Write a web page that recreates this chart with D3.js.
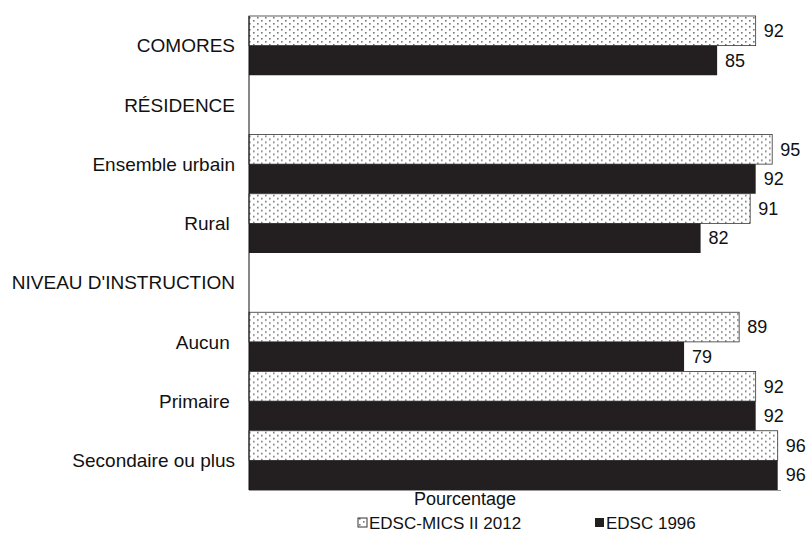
<!DOCTYPE html>
<html>
<head>
<meta charset="utf-8">
<script src="https://cdn.jsdelivr.net/npm/d3@7"></script>
<style>
  body { margin: 0; background: #fff; }
  text { font-family: "Liberation Sans", Arial, sans-serif; fill: #111; }
  .cat { white-space: pre; }
</style>
</head>
<body>
<div id="chart-area"></div>
<script>
// row labels, top to bottom (headers have no bars)
const categories = ["COMORES", "RÉSIDENCE", "Ensemble urbain", "Rural ", "NIVEAU D'INSTRUCTION", "Aucun ", "Primaire ", "Secondaire ou plus"]
const series = ["EDSC-MICS II 2012", "EDSC 1996"]
const values2012 = [92, null, 95, 91, null, 89, 92, 96]
const values1996 = [85, null, 92, 82, null, 79, 92, 96]
const axisTitle = "Pourcentage"

const svg = d3.select("#chart-area").append("svg")
  .attr("width", 810)
  .attr("height", 546)

// dotted fill for the 2012 bars
const defs = svg.append("defs")
const pat = defs.append("pattern")
  .attr("id", "dots")
  .attr("patternUnits", "userSpaceOnUse")
  .attr("width", 8)
  .attr("height", 6)
pat.append("rect").attr("width", 8).attr("height", 6).attr("fill", "#fff")
pat.append("rect").attr("x", 1).attr("y", 1).attr("width", 1.6).attr("height", 1.6).attr("fill", "#777")
pat.append("rect").attr("x", 5).attr("y", 4).attr("width", 1.6).attr("height", 1.6).attr("fill", "#777")

const x = d3.scaleLinear().domain([0, 96.6]).range([249, 781])
const y = d3.scaleBand().domain(categories).range([16, 490])
const y1 = d3.scaleBand().domain(series).range([0, y.bandwidth()])

const rows = categories.map((c, i) => ({cat: c, v: [values2012[i], values1996[i]]}))

const groups = svg.selectAll("g.row")
  .data(rows)
  .enter().append("g")
  .attr("class", "row")
  .attr("transform", d => `translate(0,${y(d.cat)})`)

groups.each(function(d) {
  const g = d3.select(this)
  series.forEach((s, j) => {
    if (d.v[j] == null) return
    g.append("rect")
      .attr("x", x(0))
      .attr("y", y1(s))
      .attr("width", x(d.v[j]) - x(0))
      .attr("height", y1.bandwidth())
      .attr("fill", j === 0 ? "url(#dots)" : "#231f20")
      .attr("stroke", j === 0 ? "#333" : "none")
      .attr("stroke-width", 0.8)
    g.append("text")
      .attr("x", x(d.v[j]) + 8)
      .attr("y", y1(s) + y1.bandwidth() / 2)
      .attr("dy", "0.35em")
      .attr("font-size", 18)
      .text(d.v[j])
  })
})

// category labels
svg.selectAll("text.cat")
  .data(categories)
  .enter().append("text")
  .attr("class", "cat")
  .attr("x", 235)
  .attr("y", d => y(d) + y.bandwidth() / 2)
  .attr("dy", "0.35em")
  .attr("text-anchor", "end")
  .attr("font-size", 19)
  .text(d => d)

// axes lines
svg.append("line")
  .attr("x1", x(0)).attr("x2", x(0))
  .attr("y1", 16).attr("y2", 490)
  .attr("stroke", "#111").attr("stroke-width", 1)
svg.append("line")
  .attr("x1", x(0)).attr("x2", x(96.6))
  .attr("y1", 490.5).attr("y2", 490.5)
  .attr("stroke", "#999").attr("stroke-width", 1)

svg.append("text")
  .attr("x", 465)
  .attr("y", 505)
  .attr("text-anchor", "middle")
  .attr("font-size", 18)
  .text(axisTitle)

// legend
const legX = [358, 595]
series.forEach((s, j) => {
  const lg = svg.append("g").attr("transform", `translate(${legX[j]},523)`)
  lg.append("rect")
    .attr("x", 0).attr("y", -5)
    .attr("width", 9).attr("height", 9)
    .attr("fill", j === 0 ? "url(#dots)" : "#231f20")
    .attr("stroke", j === 0 ? "#333" : "none")
  lg.append("text")
    .attr("x", 11)
    .attr("y", 0)
    .attr("dy", "0.35em")
    .attr("font-size", 17)
    .text(s)
})
</script>
</body>
</html>
